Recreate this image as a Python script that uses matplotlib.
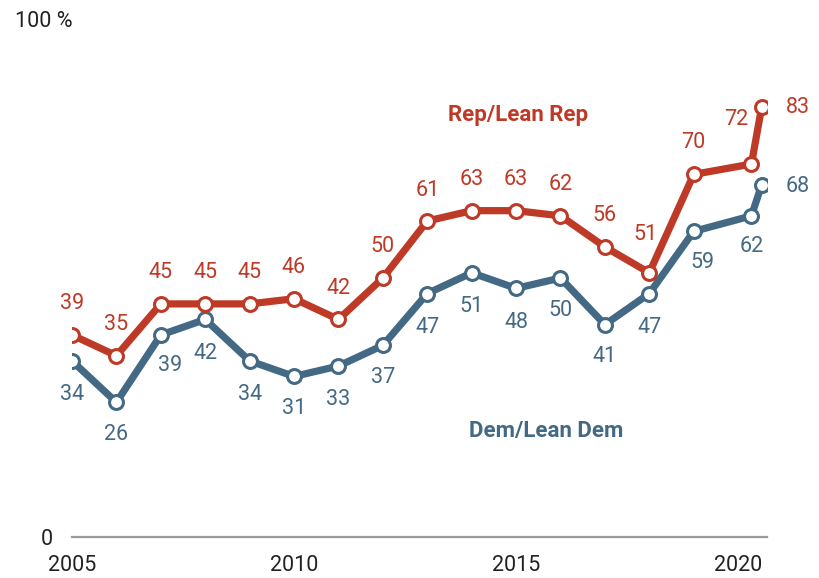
import matplotlib
matplotlib.use('Agg')
import matplotlib.pyplot as plt
from matplotlib.transforms import ScaledTranslation

plt.rcParams['font.family'] = ['Roboto', 'DejaVu Sans']

# survey waves: one per year, two in 2020
years = [2005, 2006, 2007, 2008, 2009, 2010, 2011, 2012, 2013, 2014,
         2015, 2016, 2017, 2018, 2019, 2020.3, 2020.53]
rep = [39, 35, 45, 45, 45, 46, 42, 50, 61, 63, 63, 62, 56, 51, 70, 72, 83]
dem = [34, 26, 39, 42, 34, 31, 33, 37, 47, 51, 48, 50, 41, 47, 59, 62, 68]
year_ticks = [2005, 2010, 2015, 2020]

RED = '#BE3A26'
BLUE = '#436984'

# label offsets in pixels (dx, dy) from each marker
rep_off = [(0, 31)] * 13 + [(-4, 38), (0, 32), (-15, 45), (36, 0)]
dem_off = [(0, -34), (0, -32), (9, -31), (0, -34), (0, -34), (0, -32),
           (0, -33), (0, -32), (0, -34), (0, -34), (0, -34), (0, -33),
           (0, -32), (0, -34), (9, -31), (0, -31), (36, -2)]

fig = plt.figure(figsize=(8.2, 5.78), dpi=100)
ax = fig.add_axes([72 / 820, 41 / 578, 695 / 820, 518 / 578])

for vals, col, offs in [(dem, BLUE, dem_off), (rep, RED, rep_off)]:
    ax.plot(years, vals, color=col, lw=5.2, solid_joinstyle='round',
            marker='o', ms=10, mfc='white', mec=col, mew=2.2, zorder=3)
    for x, v, (dx, dy) in zip(years, vals, offs):
        ax.annotate(str(v), (x, v), xytext=(dx, dy), textcoords='offset pixels',
                    ha='center', va='center', fontsize=15.5, color=col)

ax.text(2015.05, 81.5, 'Rep/Lean Rep', color=RED, fontsize=16,
        fontweight='bold', ha='center', va='center')
ax.text(2015.67, 20.5, 'Dem/Lean Dem', color=BLUE, fontsize=16,
        fontweight='bold', ha='center', va='center')

ax.set_xlim(2005, 2020.65)
ax.set_ylim(0, 100)
for s in ['top', 'right', 'left']:
    ax.spines[s].set_visible(False)
ax.spines['bottom'].set_color('#9a9a9a')
ax.spines['bottom'].set_linewidth(1.6)

ax.set_xticks(year_ticks)
ax.set_xticklabels([str(y) for y in year_ticks])
ax.tick_params(axis='x', length=0, pad=13, labelsize=15.5, labelcolor='#222222')
ax.set_yticks([0, 100])
ax.set_yticklabels(['0', '100 %'])
ax.tick_params(axis='y', length=0, pad=14, labelsize=15.5, labelcolor='#222222')
lab = ax.get_yticklabels()[1]
lab.set_transform(lab.get_transform() + ScaledTranslation(0.2, 0, fig.dpi_scale_trans))

fig.savefig('out.png', dpi=100)
